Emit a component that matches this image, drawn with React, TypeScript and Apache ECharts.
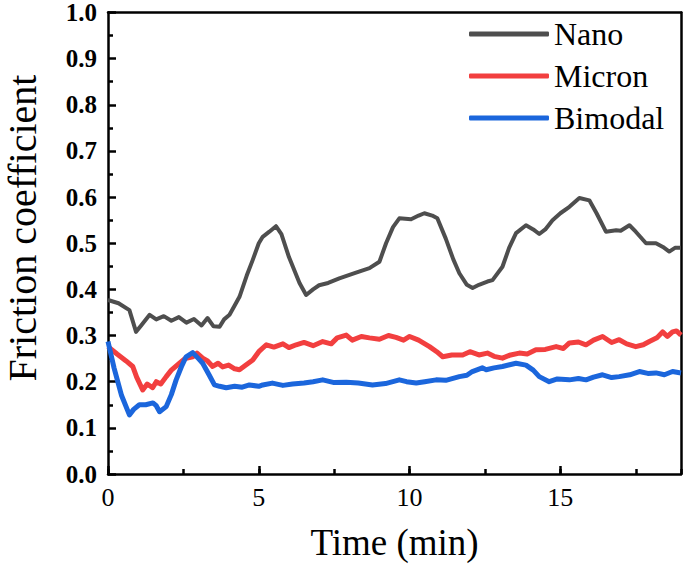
import React, { useEffect, useRef } from "react";
import * as echarts from "echarts";

const nanoTime = [0, 0.35, 0.71, 0.93, 1.1, 1.38, 1.6, 1.85, 2.1, 2.35, 2.6, 2.85, 3.1, 3.3, 3.5, 3.7, 3.85, 4.03, 4.2, 4.36, 4.6, 4.8, 5.0, 5.13, 5.35, 5.57, 5.75, 6.0, 6.35, 6.57, 6.8, 7.0, 7.3, 7.67, 8.2, 8.67, 9.0, 9.22, 9.45, 9.66, 10.05, 10.3, 10.49, 10.75, 10.92, 11.2, 11.45, 11.65, 11.9, 12.09, 12.3, 12.58, 12.75, 13.08, 13.3, 13.53, 13.86, 14.1, 14.3, 14.5, 14.74, 15.0, 15.3, 15.63, 15.96, 16.2, 16.51, 16.85, 17.0, 17.29, 17.5, 17.84, 18.17, 18.4, 18.61, 18.8, 19];
const nano = [0.377, 0.37, 0.355, 0.308, 0.322, 0.345, 0.335, 0.342, 0.332, 0.34, 0.328, 0.336, 0.322, 0.338, 0.32, 0.319, 0.335, 0.345, 0.365, 0.384, 0.43, 0.464, 0.5, 0.514, 0.525, 0.537, 0.52, 0.47, 0.414, 0.388, 0.4, 0.409, 0.414, 0.424, 0.436, 0.446, 0.46, 0.5, 0.535, 0.554, 0.552, 0.56, 0.565, 0.56, 0.554, 0.51, 0.465, 0.435, 0.41, 0.403, 0.41, 0.417, 0.42, 0.449, 0.49, 0.522, 0.539, 0.53, 0.52, 0.53, 0.55, 0.565, 0.579, 0.598, 0.593, 0.565, 0.525, 0.528, 0.527, 0.539, 0.525, 0.5, 0.5, 0.492, 0.482, 0.49, 0.49];

const micronTime = [0, 0.3, 0.6, 0.82, 0.95, 1.15, 1.3, 1.48, 1.6, 1.75, 1.93, 2.1, 2.37, 2.55, 2.81, 2.95, 3.14, 3.3, 3.47, 3.65, 3.8, 4.0, 4.2, 4.36, 4.55, 4.8, 5.0, 5.25, 5.5, 5.8, 6.0, 6.24, 6.5, 6.8, 7.12, 7.4, 7.6, 7.9, 8.1, 8.4, 8.67, 9.0, 9.3, 9.55, 9.8, 10.0, 10.3, 10.66, 10.9, 11.1, 11.4, 11.76, 12.0, 12.3, 12.58, 12.8, 13.08, 13.35, 13.64, 13.9, 14.19, 14.5, 14.86, 15.1, 15.3, 15.6, 15.85, 16.1, 16.4, 16.7, 16.95, 17.2, 17.5, 17.75, 17.95, 18.2, 18.39, 18.55, 18.72, 18.85, 19];
const micron = [0.276, 0.26, 0.245, 0.233, 0.21, 0.182, 0.195, 0.187, 0.2, 0.195, 0.211, 0.225, 0.24, 0.25, 0.254, 0.262, 0.251, 0.245, 0.233, 0.24, 0.232, 0.236, 0.228, 0.226, 0.235, 0.247, 0.265, 0.28, 0.275, 0.282, 0.274, 0.28, 0.285, 0.278, 0.287, 0.282, 0.295, 0.301, 0.29, 0.298, 0.295, 0.292, 0.3, 0.296, 0.29, 0.298, 0.29, 0.276, 0.265, 0.254, 0.258, 0.258, 0.265, 0.258, 0.262, 0.255, 0.251, 0.258, 0.262, 0.26, 0.269, 0.27, 0.276, 0.272, 0.284, 0.286, 0.28, 0.29, 0.298, 0.285, 0.291, 0.282, 0.276, 0.28, 0.287, 0.295, 0.308, 0.298, 0.308, 0.31, 0.301];

const bimodalTime = [0, 0.2, 0.45, 0.71, 0.85, 1.04, 1.25, 1.49, 1.6, 1.71, 1.93, 2.1, 2.26, 2.45, 2.59, 2.81, 3.0, 3.14, 3.35, 3.53, 3.7, 3.92, 4.2, 4.45, 4.69, 5.0, 5.13, 5.45, 5.8, 6.12, 6.5, 6.8, 7.12, 7.5, 7.9, 8.3, 8.77, 9.2, 9.66, 9.9, 10.22, 10.5, 10.88, 11.2, 11.65, 11.9, 12.08, 12.41, 12.54, 12.8, 13.08, 13.53, 13.86, 14.1, 14.3, 14.63, 14.9, 15.3, 15.6, 15.85, 16.1, 16.4, 16.7, 16.95, 17.3, 17.62, 17.9, 18.17, 18.45, 18.72, 19];
const bimodal = [0.287, 0.23, 0.17, 0.128, 0.14, 0.15, 0.15, 0.154, 0.148, 0.135, 0.146, 0.172, 0.204, 0.235, 0.254, 0.263, 0.25, 0.24, 0.215, 0.193, 0.19, 0.187, 0.19, 0.188, 0.193, 0.19, 0.193, 0.197, 0.192, 0.195, 0.197, 0.2, 0.204, 0.198, 0.199, 0.197, 0.193, 0.196, 0.204, 0.2, 0.197, 0.2, 0.204, 0.203, 0.211, 0.214, 0.222, 0.23, 0.226, 0.23, 0.233, 0.24, 0.236, 0.225, 0.211, 0.2, 0.206, 0.204, 0.207, 0.204, 0.21, 0.215, 0.209, 0.211, 0.215, 0.222, 0.218, 0.219, 0.215, 0.222, 0.219];

const seriesNames = ["Nano", "Micron", "Bimodal"];
const seriesColors = ["#4e4e4e", "#f23f3f", "#1b66dc"];

const FONT = "Liberation Serif";
const AXIS_COLOR = "#000";
const AXIS_W = 2.5;

function pairs(t: number[], v: number[]) {
  return t.map((x, i) => [x, v[i]]);
}

export default function App() {
  const ref = useRef<HTMLDivElement>(null);
  useEffect(() => {
    if (!ref.current) return;
    const chart = echarts.init(ref.current, null, { renderer: "svg" });
    const datasets = [pairs(nanoTime, nano), pairs(micronTime, micron), pairs(bimodalTime, bimodal)];
    const widths = [4, 5, 5];
    const frameAxisX = {
      type: "value",
      min: 0,
      max: 19,
      position: "top",
      axisLine: { show: true, onZero: false, lineStyle: { color: AXIS_COLOR, width: AXIS_W } },
      axisTick: { show: false },
      axisLabel: { show: false },
      splitLine: { show: false },
    };
    chart.setOption({
      animation: false,
      grid: { left: 108, right: 4, top: 12, bottom: 96 },
      legend: {
        orient: "vertical",
        left: 469,
        top: 18,
        padding: 0,
        icon: "roundRect",
        itemWidth: 80,
        itemHeight: 5,
        itemGap: 10,
        data: seriesNames,
        textStyle: { fontFamily: FONT, fontSize: 32, color: "#000", lineHeight: 32 },
      },
      xAxis: [
        {
          type: "value",
          min: 0,
          max: 19,
          interval: 5,
          position: "bottom",
          name: "Time (min)",
          nameLocation: "middle",
          nameGap: 50,
          nameTextStyle: { fontFamily: FONT, fontSize: 37, color: "#000" },
          axisLine: { show: true, onZero: false, lineStyle: { color: AXIS_COLOR, width: AXIS_W } },
          axisTick: { show: true, inside: true, length: 8, lineStyle: { color: AXIS_COLOR, width: AXIS_W } },
          axisLabel: {
            showMaxLabel: false,
            margin: 10,
            fontFamily: FONT,
            fontSize: 26,
            color: "#000",
          },
          splitLine: { show: false },
        },
        {
          type: "value",
          min: 0,
          max: 19,
          interval: 2.5,
          position: "bottom",
          axisLine: { show: false, onZero: false },
          axisTick: { show: true, inside: true, length: 5, lineStyle: { color: AXIS_COLOR, width: AXIS_W } },
          axisLabel: { show: false },
          splitLine: { show: false },
        },
        frameAxisX,
      ],
      yAxis: [
        {
          type: "value",
          min: 0,
          max: 1,
          interval: 0.1,
          position: "left",
          axisLine: { show: true, onZero: false, lineStyle: { color: AXIS_COLOR, width: AXIS_W } },
          axisTick: { show: true, inside: true, length: 8, lineStyle: { color: AXIS_COLOR, width: AXIS_W } },
          minorTick: { show: true, splitNumber: 2, length: 5, lineStyle: { color: AXIS_COLOR, width: AXIS_W } },
          axisLabel: {
            margin: 11,
            fontFamily: FONT,
            fontSize: 25,
            fontWeight: "bold",
            color: "#000",
            formatter: (v: number) => v.toFixed(1),
          },
          splitLine: { show: false },
        },
        {
          type: "value",
          min: 0,
          max: 1,
          position: "right",
          axisLine: { show: true, onZero: false, lineStyle: { color: AXIS_COLOR, width: AXIS_W } },
          axisTick: { show: false },
          axisLabel: { show: false },
          splitLine: { show: false },
        },
      ],
      graphic: [
        {
          type: "text",
          x: 22,
          y: 228,
          rotation: Math.PI / 2,
          style: {
            text: "Friction coefficient",
            fontFamily: FONT,
            fontSize: 40,
            fill: "#000",
            textAlign: "center",
            textVerticalAlign: "middle",
          },
        },
      ],
      series: seriesNames.map((name, i) => ({
        name,
        type: "line",
        xAxisIndex: 0,
        yAxisIndex: 0,
        data: datasets[i],
        showSymbol: false,
        symbol: "none",
        color: seriesColors[i],
        lineStyle: { color: seriesColors[i], width: widths[i], join: "round" },
      })),
    });
    return () => chart.dispose();
  }, []);
  return (
    <div
      ref={ref}
      style={{ position: "fixed", left: 0, top: 0, width: 685, height: 570, background: "#fff" }}
    />
  );
}
